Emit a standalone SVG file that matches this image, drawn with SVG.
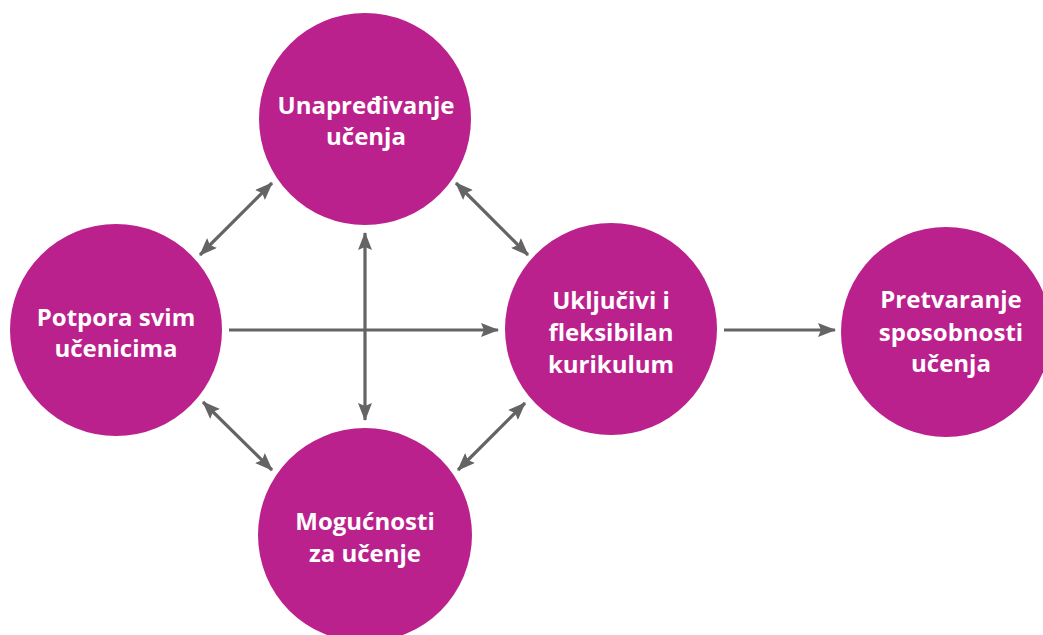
<svg xmlns="http://www.w3.org/2000/svg" width="1043" height="635" viewBox="0 0 1043 635">
  <style>
    .node circle { fill: #BB218D; }
    .node text { fill: #ffffff; font-family: "Open Sans", "Liberation Sans", sans-serif; font-weight: 700; font-size: 24px; text-anchor: middle; }
    .conn line { stroke: #646464; stroke-width: 3.2; fill: none; }
  </style>
  <defs>
    <marker id="ah" viewBox="0 0 18 14" markerUnits="userSpaceOnUse" markerWidth="18" markerHeight="14" refX="17" refY="7" orient="auto-start-reverse">
      <path d="M0,0 L18,7 L0,14 L3,7 Z" fill="#646464"/>
    </marker>
  </defs>
  <rect width="1043" height="635" fill="#ffffff"/>
  <g id="connectors" class="conn">
    <line x1="365" y1="233" x2="365" y2="420" marker-start="url(#ah)" marker-end="url(#ah)"/>
    <line x1="229" y1="330" x2="498" y2="330" marker-end="url(#ah)"/>
    <line x1="724" y1="330" x2="835" y2="330" marker-end="url(#ah)"/>
    <line x1="200" y1="255" x2="272" y2="183" marker-start="url(#ah)" marker-end="url(#ah)"/>
    <line x1="456" y1="183" x2="528" y2="255" marker-start="url(#ah)" marker-end="url(#ah)"/>
    <line x1="458" y1="470" x2="525" y2="403" marker-start="url(#ah)" marker-end="url(#ah)"/>
    <line x1="203" y1="402" x2="272" y2="470" marker-start="url(#ah)" marker-end="url(#ah)"/>
  </g>
  <g id="node-unapredivanje" class="node">
    <circle cx="365" cy="119" r="106"/>
    <text x="366" y="114">Unapređivanje</text>
    <text x="366" y="145">učenja</text>
  </g>
  <g id="node-potpora" class="node">
    <circle cx="116" cy="330" r="106"/>
    <text x="116" y="326">Potpora svim</text>
    <text x="116" y="357">učenicima</text>
  </g>
  <g id="node-ukljucivi" class="node">
    <circle cx="611" cy="329" r="106"/>
    <text x="611" y="309">Uključivi i</text>
    <text x="611" y="341">fleksibilan</text>
    <text x="611" y="373">kurikulum</text>
  </g>
  <g id="node-pretvaranje" class="node">
    <circle cx="946" cy="332" r="105"/>
    <text x="951" y="308">Pretvaranje</text>
    <text x="951" y="341">sposobnosti</text>
    <text x="951" y="372">učenja</text>
  </g>
  <g id="node-mogucnosti" class="node">
    <circle cx="365" cy="535" r="107"/>
    <text x="365" y="530">Mogućnosti</text>
    <text x="365" y="562">za učenje</text>
  </g>
</svg>
